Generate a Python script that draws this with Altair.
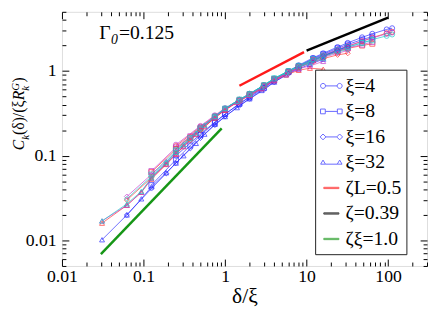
import altair as alt
import pandas as pd

FONT = "Liberation Serif"
W, H = 372, 259

# ---------------- data: delta/xi grids for each xi ----------------
x_xi32 = [0.031, 0.0625, 0.094, 0.125, 0.19, 0.25, 0.31, 0.44, 0.56, 0.75, 1.0, 1.4, 2.0, 2.8, 4.0, 5.6, 8.0, 11, 16]
y32_blue = [0.0102, 0.020, 0.031, 0.043, 0.063, 0.082, 0.10, 0.14, 0.18, 0.235, 0.29, 0.37, 0.47, 0.59, 0.74, 0.90, 1.06, 1.20, 1.38]
y32_red = [0.016, 0.026, 0.037, 0.053, 0.079, 0.104, 0.128, 0.178, 0.22, 0.28, 0.345, 0.425, 0.515, 0.62, 0.77, 0.90, 1.02, 1.08, 1.05]
y32_magenta = [0.017, 0.026, 0.037, 0.054, 0.080, 0.105, 0.13, 0.18, 0.225, 0.285, 0.35, 0.43, 0.52, 0.63, 0.78, 0.92, 1.06, 1.15, 1.30]
y32_cyan = [0.017, 0.027, 0.038, 0.055, 0.083, 0.11, 0.135, 0.185, 0.23, 0.29, 0.36, 0.44, 0.53, 0.65, 0.81, 0.96, 1.12, 1.25, 1.42]

x_xi16 = [0.0625, 0.125, 0.19, 0.25, 0.375, 0.5, 0.75, 1.0, 1.5, 2.0, 3.0, 4.0, 6.0, 8.0, 12, 16, 24, 32]
y16_blue = [0.020, 0.041, 0.062, 0.082, 0.122, 0.162, 0.23, 0.29, 0.39, 0.47, 0.60, 0.74, 0.93, 1.10, 1.32, 1.50, 1.76, 1.95]
y16_red = [0.030, 0.055, 0.080, 0.106, 0.152, 0.20, 0.28, 0.35, 0.45, 0.525, 0.66, 0.79, 0.96, 1.10, 1.28, 1.40, 1.55, 1.62]
y16_magenta = [0.033, 0.060, 0.085, 0.112, 0.16, 0.21, 0.285, 0.355, 0.45, 0.53, 0.66, 0.79, 0.97, 1.12, 1.30, 1.45, 1.62, 1.75]
y16_cyan = [0.031, 0.057, 0.083, 0.11, 0.158, 0.208, 0.29, 0.36, 0.46, 0.535, 0.68, 0.81, 0.99, 1.14, 1.33, 1.48, 1.68, 1.80]

x_xi8 = [0.125, 0.25, 0.375, 0.5, 0.75, 1.0, 1.5, 2.0, 3.0, 4.0, 6.0, 8.0, 12, 16, 24, 32, 48, 64]
y8_blue = [0.045, 0.090, 0.132, 0.175, 0.245, 0.31, 0.41, 0.49, 0.63, 0.77, 0.97, 1.14, 1.40, 1.58, 1.86, 2.06, 2.35, 2.55]
y8_red = [0.064, 0.12, 0.165, 0.21, 0.285, 0.35, 0.45, 0.53, 0.67, 0.80, 0.98, 1.12, 1.34, 1.48, 1.70, 1.85, 2.00, 2.10]
y8_magenta = [0.066, 0.125, 0.17, 0.215, 0.29, 0.355, 0.45, 0.53, 0.67, 0.80, 0.98, 1.13, 1.35, 1.50, 1.72, 1.88, 2.05, 2.20]
y8_cyan = [0.060, 0.115, 0.162, 0.21, 0.29, 0.36, 0.46, 0.535, 0.68, 0.82, 1.00, 1.15, 1.38, 1.52, 1.76, 1.93, 2.15, 2.30]

x_xi4 = [0.25, 0.5, 0.75, 1.0, 1.5, 2.0, 3.0, 4.0, 6.0, 8.0, 12, 16, 24, 32, 48, 64, 96, 112]
y4_blue = [0.10, 0.18, 0.25, 0.31, 0.41, 0.50, 0.65, 0.79, 1.00, 1.17, 1.43, 1.62, 1.92, 2.15, 2.50, 2.75, 3.10, 3.20]
y4_red = [0.13, 0.22, 0.295, 0.36, 0.455, 0.535, 0.68, 0.81, 0.99, 1.14, 1.37, 1.52, 1.78, 1.96, 2.25, 2.48, 2.80, 2.90]
y4_magenta = [0.135, 0.225, 0.30, 0.365, 0.46, 0.54, 0.68, 0.81, 0.99, 1.15, 1.38, 1.55, 1.80, 1.98, 2.25, 2.45, 2.75, 2.85]
y4_cyan = [0.12, 0.215, 0.29, 0.36, 0.46, 0.54, 0.68, 0.82, 1.00, 1.15, 1.36, 1.50, 1.72, 1.90, 2.15, 2.35, 2.60, 2.70]

# reference power laws (end points)
ref_labels = ["ζL=0.5", "ζ=0.39", "ζξ=1.0"]
ref_x0 = [1.5, 10, 0.03]
ref_x1 = [9.3, 100, 0.91]
ref_y0 = [0.67, 1.74, 0.0069]
ref_y1 = [1.67, 4.26, 0.21]

# axis ticks
x_major = [0.01, 0.1, 1, 10, 100]
y_major = [0.01, 0.1, 1]
mult = [1, 2, 3, 4, 5, 6, 7, 8, 9]
x_ticks = [m * d for d in [0.01, 0.1, 1, 10] for m in mult] + [100, 200, 300]
y_ticks = [0.005, 0.006, 0.007, 0.008, 0.009] + [m * d for d in [0.01, 0.1, 1] for m in mult]

# texts
gamma_text = ["Γ", "0", "=0.125"]
ytitle_text = ["C", "k", "(δ)/(ξ", "R", "k", "G", ")"]

# ---------------- build tables ----------------
series = [
    ("4", x_xi4, {"blue": y4_blue, "red": y4_red, "magenta": y4_magenta, "cyan": y4_cyan}),
    ("8", x_xi8, {"blue": y8_blue, "red": y8_red, "magenta": y8_magenta, "cyan": y8_cyan}),
    ("16", x_xi16, {"blue": y16_blue, "red": y16_red, "magenta": y16_magenta, "cyan": y16_cyan}),
    ("32", x_xi32, {"blue": y32_blue, "red": y32_red, "magenta": y32_magenta, "cyan": y32_cyan}),
]
rows = []
for xi, xs, variants in series:
    for var, ys in variants.items():
        for xv, yv in zip(xs, ys):
            rows.append({"x": xv, "y": yv, "xi": xi, "variant": var, "series": xi + "_" + var})
df = pd.DataFrame(rows)

ref_rows = []
for lab, a, b, c, d in zip(ref_labels, ref_x0, ref_x1, ref_y0, ref_y1):
    ref_rows.append({"x": a, "y": c, "label": lab})
    ref_rows.append({"x": b, "y": d, "label": lab})
ref_df = pd.DataFrame(ref_rows)

LEG = ["ξ=4", "ξ=8", "ξ=16", "ξ=32"] + ref_labels
leg_df = pd.DataFrame({"label": LEG, "x": [1e4] * len(LEG), "y": [1e4] * len(LEG)})
one_df = pd.DataFrame({"t": [0]})

# ---------------- styles ----------------
var_scale = alt.Scale(domain=["blue", "red", "magenta", "cyan"],
                      range=["#2a2aff", "#ff3030", "#c43cd0", "#1cc8c8"])
shape_scale = alt.Scale(domain=["4", "8", "16", "32"],
                        range=["circle", "square", "diamond", "triangle-up"])
x_scale = alt.Scale(type="log", domain=[0.01, 300], nice=False)
y_scale = alt.Scale(type="log", domain=[0.005, 5], nice=False)

BLUE = "#2a2aff"
leg_colors = [BLUE, BLUE, BLUE, BLUE, "#ff1a1a", "#000000", "#169616"]
leg_fills = ["transparent"] * 4 + ["#ff1a1a", "#000000", "#169616"]
P_CIRC = ("M-1,0 A0.23,0.23 0 1,0 -0.54,0 A0.23,0.23 0 1,0 -1,0 Z M-0.54,0 L0.54,0 "
          "M0.54,0 A0.23,0.23 0 1,0 1,0 A0.23,0.23 0 1,0 0.54,0 Z")
P_SQ = ("M-1,-0.22 L-0.56,-0.22 L-0.56,0.22 L-1,0.22 Z M-0.56,0 L0.56,0 "
        "M0.56,-0.22 L1,-0.22 L1,0.22 L0.56,0.22 Z")
P_DIA = ("M-0.77,-0.27 L-0.5,0 L-0.77,0.27 L-1.04,0 Z M-0.5,0 L0.5,0 "
         "M0.77,-0.27 L1.04,0 L0.77,0.27 L0.5,0 Z")
P_TRI = ("M-0.77,-0.22 L-0.55,0.16 L-0.99,0.16 Z M-0.55,0.16 L0.55,0.16 "
         "M0.77,-0.22 L0.99,0.16 L0.55,0.16 Z")
P_LINE = "M-0.7,-0.06 L0.7,-0.06 L0.7,0.06 L-0.7,0.06 Z"
leg_shapes = [P_CIRC, P_SQ, P_DIA, P_TRI, P_LINE, P_LINE, P_LINE]

MAJOR_TEST = "abs(log(datum.value)/LN10 - round(log(datum.value)/LN10)) < 0.001"


def tick_axis(orient, offset, values):
    return alt.Axis(orient=orient, offset=offset, values=values, labels=False, domain=False,
                    grid=False, title=None, tickColor="black", tickWidth=1,
                    tickSize={"condition": {"test": MAJOR_TEST, "value": 7}, "value": 4})


x_label_axis = alt.Axis(orient="bottom", values=x_major, format="~g", ticks=False, tickSize=0,
                        domain=False, grid=False, labelFont=FONT, labelFontSize=18,
                        labelColor="black", labelPadding=2, labelFlush=False, labelOverlap=False,
                        title="δ/ξ", titleFont=FONT, titleFontSize=22, titleFontWeight="normal",
                        titleColor="black", titleY=37, titleBaseline="alphabetic")
y_label_axis = alt.Axis(orient="left", values=y_major, format="~g", ticks=False, tickSize=0,
                        domain=False, grid=False, labelFont=FONT, labelFontSize=18,
                        labelColor="black", labelPadding=6, labelOverlap=False, labelFlush=False,
                        title=None)

legend = alt.Legend(orient="none", legendX=258, legendY=59, title=None, strokeColor="#222222",
                    fillColor="white", padding=5, symbolSize=484, symbolStrokeWidth=1,
                    labelFont=FONT, labelFontSize=20, labelColor="black", labelOffset=3,
                    rowPadding=4, labelLimit=200, gridAlign="all")

# ---------------- layers ----------------
lines = alt.Chart(df).mark_line(strokeWidth=0.8, opacity=0.85, clip=True).encode(
    x=alt.X("x:Q", scale=x_scale, axis=x_label_axis),
    y=alt.Y("y:Q", scale=y_scale, axis=y_label_axis),
    color=alt.Color("variant:N", scale=var_scale, legend=None),
    detail="series:N",
)

points = alt.Chart(df).mark_point(filled=False, size=26, strokeWidth=1, clip=True).encode(
    x=alt.X("x:Q", scale=x_scale, axis=tick_axis("top", -H, x_ticks)),
    y=alt.Y("y:Q", scale=y_scale, axis=tick_axis("right", -W, y_ticks)),
    color=alt.Color("variant:N", scale=var_scale, legend=None),
    shape=alt.Shape("xi:N", scale=shape_scale, legend=None),
)

refs = alt.Chart(ref_df).mark_line(strokeWidth=2.5, clip=True).encode(
    x=alt.X("x:Q", scale=x_scale, axis=tick_axis("bottom", -H, x_ticks)),
    y=alt.Y("y:Q", scale=y_scale, axis=tick_axis("left", -W, y_ticks)),
    color=alt.Color("label:N", scale=alt.Scale(domain=ref_labels, range=leg_colors[4:]), legend=None),
    detail="label:N",
)

leg_layer = alt.Chart(leg_df).mark_point(filled=False, strokeWidth=1, clip=True).encode(
    x=alt.X("x:Q", scale=x_scale, axis=None),
    y=alt.Y("y:Q", scale=y_scale, axis=None),
    color=alt.Color("label:N", scale=alt.Scale(domain=LEG, range=leg_colors), legend=legend),
    shape=alt.Shape("label:N", scale=alt.Scale(domain=LEG, range=leg_shapes), legend=legend),
    fill=alt.Fill("label:N", scale=alt.Scale(domain=LEG, range=leg_fills), legend=legend),
)


def text_piece(txt, px, py, size, italic=False, angle=None):
    kw = dict(text=txt, align="left", baseline="alphabetic", font=FONT, fontSize=size,
              color="black")
    if italic:
        kw["fontStyle"] = "italic"
    if angle is not None:
        kw["angle"] = angle
    return alt.Chart(one_df).mark_text(**kw).encode(x=alt.value(px), y=alt.value(py))


# annotation "Γ0=0.125"
gamma_layers = [
    text_piece(gamma_text[0], 38, 28, 20),
    text_piece(gamma_text[1], 50, 33, 14, italic=True),
    text_piece(gamma_text[2], 58, 28, 20),
]

# rotated y-axis title  C_k(δ)/(ξ R_k^G)
ytitle_layers = [
    text_piece(ytitle_text[0], -39, 141, 16, italic=True, angle=270),
    text_piece(ytitle_text[1], -34, 130.5, 11, italic=True, angle=270),
    text_piece(ytitle_text[2], -39, 125.5, 16, angle=270),
    text_piece(ytitle_text[3], -39, 90.2, 16, italic=True, angle=270),
    text_piece(ytitle_text[4], -34, 80.4, 11, italic=True, angle=270),
    text_piece(ytitle_text[5], -44, 80.4, 11, italic=True, angle=270),
    text_piece(ytitle_text[6], -39, 72, 16, angle=270),
]

chart = alt.layer(lines, points, refs, leg_layer, *gamma_layers, *ytitle_layers).resolve_scale(
    color="independent", shape="independent", fill="independent"
).resolve_axis(
    x="independent", y="independent"
).properties(
    width=W, height=H,
    autosize=alt.AutoSizeParams(type="none"),
    padding={"left": 55, "top": 1, "right": 1, "bottom": 43},
).configure_view(
    stroke="black", strokeWidth=1.5
).configure(
    background="white", font=FONT
).configure_axis(
    labelFont=FONT, titleFont=FONT
).configure_legend(
    labelFont=FONT
).configure_text(font=FONT)

chart.save("out.html", embed_options={"renderer": "svg", "actions": False})
